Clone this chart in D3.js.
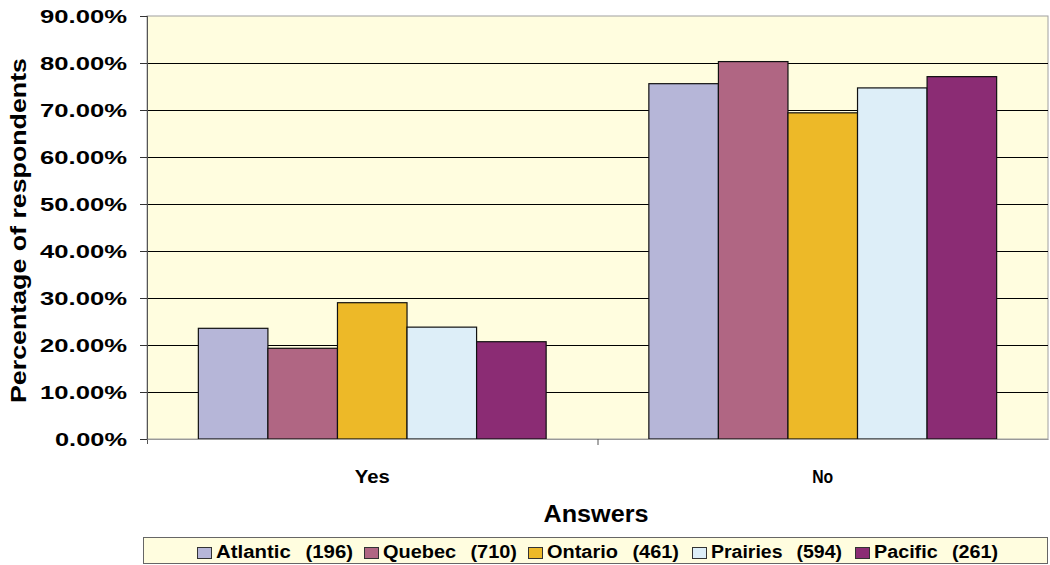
<!DOCTYPE html>
<html>
<head>
<meta charset="utf-8">
<script src="https://cdn.jsdelivr.net/npm/d3@7"></script>
<style>
  body { margin: 0; background: #fff; }
  svg { display: block; font-family: "Liberation Sans", Arial, sans-serif; font-weight: bold; }
</style>
</head>
<body>
<svg width="1050" height="565"></svg>
<script>
var categories = ["Yes", "No"];
var regions = ["Atlantic (196)", "Quebec (710)", "Ontario (461)", "Prairies (594)", "Pacific (261)"];
var colors = ["#B6B6D8", "#B06683", "#EDB928", "#DDEEF8", "#8B2C74"];
var yesValues = [23.55, 19.3, 29.0, 23.8, 20.7];
var noValues = [75.6, 80.3, 69.4, 74.7, 77.1];
var yTicks = [0, 10, 20, 30, 40, 50, 60, 70, 80, 90];

var svg = d3.select("svg");
var margin = { left: 147, top: 16, right: 2, bottom: 126 };
var width = 1050 - margin.left - margin.right,
  height = 565 - margin.top - margin.bottom;

var g = svg.append("g").attr("transform", "translate(" + margin.left + "," + margin.top + ")");

var x0 = d3.scaleBand().domain(categories).range([0, width]).paddingInner(0.228).paddingOuter(0.114);
var x1 = d3.scaleBand().domain(regions).range([0, x0.bandwidth()]);
var y = d3.scaleLinear().domain([0, 90]).range([height, 0]);

// plot background
g.append("rect")
  .attr("width", width)
  .attr("height", height)
  .attr("fill", "#FFFDDF")
  .attr("stroke", "#a0a0a0")
  .attr("stroke-width", 1);

// gridlines
g.selectAll(".grid")
  .data(yTicks.slice(1, -1))
  .enter()
  .append("line")
  .attr("x1", 0)
  .attr("x2", width)
  .attr("y1", function (d) { return Math.round(y(d)) + 0.5; })
  .attr("y2", function (d) { return Math.round(y(d)) + 0.5; })
  .attr("stroke", "#000")
  .attr("stroke-width", 1);

var data = categories.map(function (c, i) {
  var vals = i === 0 ? yesValues : noValues;
  return { cat: c, values: regions.map(function (r, j) { return { region: r, value: vals[j], color: colors[j] }; }) };
});

var groups = g.selectAll(".grp")
  .data(data)
  .enter()
  .append("g")
  .attr("transform", function (d) { return "translate(" + x0(d.cat) + ",0)"; });

groups.selectAll("rect")
  .data(function (d) { return d.values; })
  .enter()
  .append("rect")
  .attr("x", function (d) { return x1(d.region); })
  .attr("y", function (d) { return y(d.value); })
  .attr("width", x1.bandwidth())
  .attr("height", function (d) { return height - y(d.value); })
  .attr("fill", function (d) { return d.color; })
  .attr("stroke", "#111")
  .attr("stroke-width", 1.2);

// y axis
var yAxis = d3.axisLeft(y)
  .tickValues(yTicks)
  .tickSize(7)
  .tickPadding(13)
  .tickFormat(function (d) { return d.toFixed(2) + "%"; });

var ya = g.append("g").call(yAxis);
ya.select(".domain").attr("stroke", "#555").attr("d", "M0.5,0V" + (height + 5));
ya.selectAll(".tick line").attr("stroke", "#333");
ya.selectAll("text")
  .attr("fill", "#000")
  .style("font-size", "19px")
  .style("font-weight", "bold")
  .attr("dy", "0.36em")
  .attr("lengthAdjust", "spacingAndGlyphs")
  .attr("textLength", function (d) { return d >= 10 ? 87 : 72; });

// x axis
var xa = g.append("g")
  .attr("transform", "translate(0," + height + ")")
  .call(d3.axisBottom(x0).tickSize(0).tickPadding(31));
xa.select(".domain").attr("stroke", "#999");
xa.selectAll("text")
  .attr("fill", "#000")
  .style("font-size", "18px")
  .style("font-weight", "bold")
  .attr("lengthAdjust", "spacingAndGlyphs")
  .attr("textLength", function (d) { return d === "Yes" ? 35 : 21; });
// center separator tick
xa.append("line")
  .attr("x1", width / 2 + 0.5)
  .attr("x2", width / 2 + 0.5)
  .attr("y1", 0)
  .attr("y2", 6)
  .attr("stroke", "#555");

// axis titles
svg.append("text")
  .attr("transform", "translate(26," + (margin.top + height / 2 + 3) + ") rotate(-90)")
  .attr("text-anchor", "middle")
  .style("font-size", "22px")
  .attr("lengthAdjust", "spacingAndGlyphs")
  .attr("textLength", 345)
  .text("Percentage of respondents");

svg.append("text")
  .attr("x", 596)
  .attr("y", 522)
  .attr("text-anchor", "middle")
  .style("font-size", "23px")
  .attr("lengthAdjust", "spacingAndGlyphs")
  .attr("textLength", 105)
  .text("Answers");

// legend
var legend = svg.append("g");
legend.append("rect")
  .attr("x", 143.5)
  .attr("y", 537.5)
  .attr("width", 904)
  .attr("height", 26)
  .attr("fill", "#FFFDDF")
  .attr("stroke", "#666");

var legendX = [197, 364, 528, 692, 855];
var legendW = [137, 134, 132, 131, 124];
var items = legend.selectAll(".item")
  .data(regions)
  .enter()
  .append("g")
  .attr("transform", function (d, i) { return "translate(" + legendX[i] + ",547)"; });

items.append("rect")
  .attr("x", 0.5)
  .attr("y", 0.5)
  .attr("width", 14)
  .attr("height", 11)
  .attr("fill", function (d, i) { return colors[i]; })
  .attr("stroke", "#333")
  .attr("stroke-width", 1);

items.append("text")
  .attr("x", 19)
  .attr("y", 11)
  .style("font-size", "18px")
  .style("word-spacing", "8px")
  .attr("lengthAdjust", "spacingAndGlyphs")
  .attr("textLength", function (d, i) { return legendW[i]; })
  .text(function (d) { return d; });
</script>
</body>
</html>
